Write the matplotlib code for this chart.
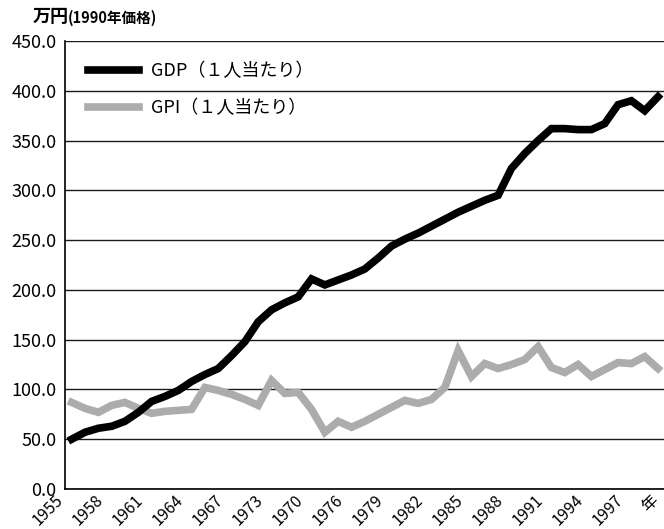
import matplotlib
matplotlib.use("Agg")
import matplotlib.pyplot as plt
from matplotlib.transforms import ScaledTranslation

plt.rcParams['font.family'] = ['Noto Sans CJK JP', 'DejaVu Sans']

years = list(range(1955, 2000))
gdp = [50, 57, 61, 63, 68, 77, 88, 93, 99, 108,
       115, 121, 134, 148, 168, 180, 187, 193, 211, 205,
       210, 215, 221, 232, 244, 251, 257, 264, 271, 278,
       284, 290, 295, 322, 337, 350, 362, 362, 361, 361,
       367, 386, 390, 380, 394]
gpi = [87, 81, 77, 84, 87, 81, 76, 78, 79, 80,
       102, 99, 95, 90, 84, 109, 96, 97, 80, 57,
       68, 62, 68, 75, 82, 89, 86, 90, 102, 139,
       113, 126, 121, 125, 130, 143, 122, 117, 125, 113,
       120, 127, 126, 133, 121]

tick_pos = list(range(1955, 2001, 3))
tick_labels = ['1955', '1958', '1961', '1964', '1967', '1973', '1970', '1976',
               '1979', '1982', '1985', '1988', '1991', '1994', '1997', '年']
yticks = [0, 50, 100, 150, 200, 250, 300, 350, 400, 450]

fig = plt.figure(figsize=(6.64, 5.29), dpi=100)
W, H = 664, 529
ax = fig.add_axes([65 / W, 40 / H, 613 / W, 448 / H])

l_gpi, = ax.plot(years, gpi, color='#acacac', lw=5.5, solid_joinstyle='miter', zorder=3,
                 label='GPI（１人当たり）')
l_gdp, = ax.plot(years, gdp, color='black', lw=5.5, solid_joinstyle='miter', zorder=4,
                 label='GDP（１人当たり）')

ax.set_xlim(1954.5, 2000.5)
ax.set_ylim(0, 450)
ax.set_yticks(yticks)
ax.set_yticklabels([f'{v:.1f}' for v in yticks], fontsize=13)
ax.set_xticks(tick_pos)
ax.set_xticklabels(tick_labels, rotation=45, ha='right', va='center',
                   rotation_mode='anchor', fontsize=11.5)
ax.tick_params(axis='both', length=0)
ax.tick_params(axis='x', pad=6.5)
ax.tick_params(axis='y', pad=6)
labs = ax.get_xticklabels()
for i, lab in enumerate(labs):
    dx = -11 if i < len(labs) - 1 else -16
    lab.set_transform(lab.get_transform() + ScaledTranslation(dx / 100, 0, fig.dpi_scale_trans))

ax.yaxis.grid(True, color='#1a1a1a', lw=1.0)
ax.set_axisbelow(True)
for s in ['top', 'right']:
    ax.spines[s].set_visible(False)
ax.spines['left'].set_color('black')
ax.spines['left'].set_linewidth(1.2)
ax.spines['bottom'].set_color('black')
ax.spines['bottom'].set_linewidth(1.2)

leg = ax.legend(handles=[l_gdp, l_gpi], loc='upper left',
                bbox_to_anchor=(23 / 613, (489 - 62) / 448),
                frameon=False, fontsize=13, handlelength=2.8,
                handletextpad=0.7, labelspacing=1.05, borderpad=0, borderaxespad=0)

fig.text(33 / W, 1 - 17 / H, '万円', fontsize=13, fontweight='bold', va='center', ha='left')
fig.text(68 / W, 1 - 18 / H, '(1990年価格)', fontsize=10.5, fontweight='bold', va='center', ha='left')

fig.savefig('out.png', dpi=100)
